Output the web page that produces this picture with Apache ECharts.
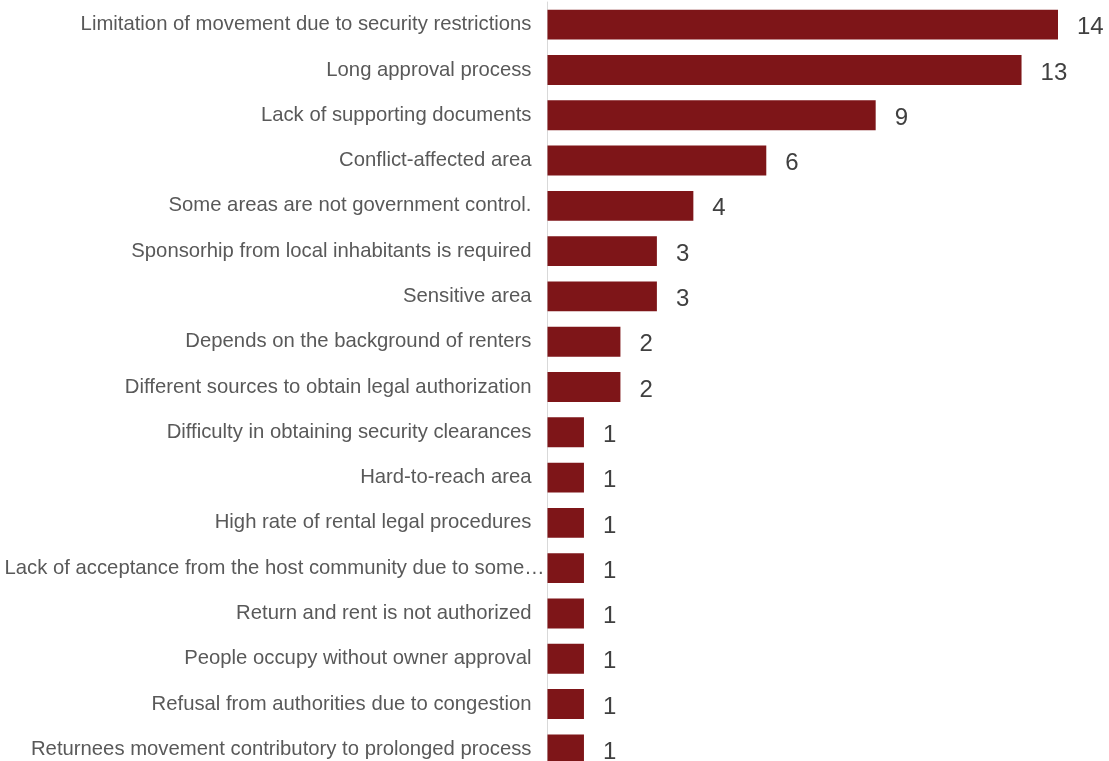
<!DOCTYPE html>
<html>
<head>
<meta charset="utf-8">
<script src="https://cdn.jsdelivr.net/npm/echarts@6/dist/echarts.min.js"></script>
<style>
  html, body { margin: 0; padding: 0; background: #ffffff; overflow: hidden; }
  #chart { width: 1109px; height: 761px; }
</style>
</head>
<body>
<div id="chart"></div>
<script>
// Reasons reported, top to bottom
const categories = [
  "Limitation of movement due to security restrictions",
  "Long approval process",
  "Lack of supporting documents",
  "Conflict-affected area",
  "Some areas are not government control.",
  "Sponsorhip from local inhabitants is required",
  "Sensitive area",
  "Depends on the background of renters",
  "Different sources to obtain legal authorization",
  "Difficulty in obtaining security clearances",
  "Hard-to-reach area",
  "High rate of rental legal procedures",
  "Lack of acceptance from the host community due to some\u2026",
  "Return and rent is not authorized",
  "People occupy without owner approval",
  "Refusal from authorities due to congestion",
  "Returnees movement contributory to prolonged process"
];

// Number of mentions per reason
const counts = [14, 13, 9, 6, 4, 3, 3, 2, 2, 1, 1, 1, 1, 1, 1, 1, 1];

const chart = echarts.init(document.getElementById('chart'), null, { renderer: 'canvas' });

// the truncated label sits right up against the axis line
const yData = categories.map(function (c) {
  if (c.endsWith('\u2026')) {
    return { value: c, textStyle: { padding: [4, -13, 0, 0] } };
  }
  return c;
});

chart.setOption({
  animation: false,
  backgroundColor: '#ffffff',
  grid: {
    left: 547.5,
    top: 2,
    width: 510.5,
    height: 770,
    containLabel: false,
    outerBoundsMode: 'none'
  },
  xAxis: {
    type: 'value',
    min: 0,
    max: 14,
    show: false
  },
  yAxis: {
    type: 'category',
    inverse: true,
    data: yData,
    axisLine: { show: true, lineStyle: { color: '#d9d9d9', width: 1 } },
    axisTick: { show: false },
    axisLabel: {
      color: '#595959',
      fontFamily: 'Liberation Sans, Arial, sans-serif',
      fontSize: 20.3,
      margin: 16,
      padding: [4, 0, 0, 0]
    }
  },
  series: [{
    type: 'bar',
    data: counts,
    barCategoryGap: '34%',
    itemStyle: { color: '#7e1518' },
    label: {
      show: true,
      position: 'right',
      distance: 19,
      offset: [0, 3],
      color: '#404040',
      fontFamily: 'Liberation Sans, Arial, sans-serif',
      fontSize: 24
    }
  }]
});
</script>
</body>
</html>
